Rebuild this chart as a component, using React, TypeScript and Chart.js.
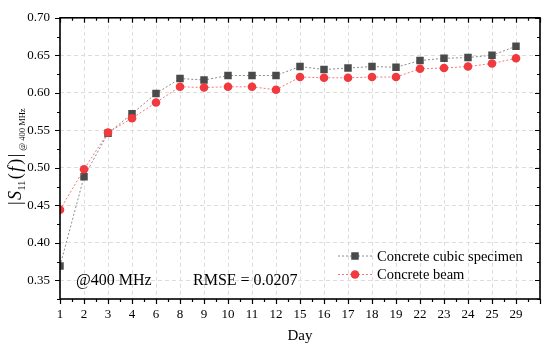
import React, { useEffect, useRef } from 'react';
import { Chart, registerables } from 'chart.js';

Chart.register(...registerables);

const days = ['1', '2', '3', '4', '6', '8', '9', '10', '11', '12', '15', '16', '17', '18', '19', '22', '23', '24', '25', '29'];
const cubicValues = [0.369, 0.488, 0.546, 0.572, 0.599, 0.619, 0.617, 0.623, 0.623, 0.623, 0.635, 0.631, 0.633, 0.635, 0.634, 0.643, 0.646, 0.647, 0.650, 0.662];
const beamValues = [0.444, 0.498, 0.547, 0.566, 0.587, 0.608, 0.607, 0.608, 0.608, 0.604, 0.621, 0.620, 0.620, 0.621, 0.621, 0.632, 0.633, 0.635, 0.639, 0.646];
const yTickValues = [0.35, 0.40, 0.45, 0.50, 0.55, 0.60, 0.65, 0.70];
const yMinorValues = [0.325, 0.375, 0.425, 0.475, 0.525, 0.575, 0.625, 0.675];
const legendLabels = ['Concrete cubic specimen', 'Concrete beam'];
const noteLeft = '@400 MHz';
const noteRight = 'RMSE = 0.0207';
const xTitle = 'Day';

const SERIF = '"Liberation Serif", "Times New Roman", serif';
const cubicColor = '#4a4a4a';
const cubicLine = '#8c8c8c';
const beamColor = '#f03a3e';
const beamLine = '#f07a7c';

const decorPlugin = {
  id: 'decor',
  afterDraw(chart: any) {
    const { ctx, chartArea } = chart;
    const { left, right, top, bottom } = chartArea;
    const xs = chart.scales.x;
    const ys = chart.scales.y;
    ctx.save();
    // ticks
    ctx.strokeStyle = '#000';
    ctx.lineWidth = 1.2;
    ctx.beginPath();
    for (let i = 0; i <= days.length; i++) {
      const px = Math.round(xs.getPixelForValue(i)) + 0.5;
      ctx.moveTo(px, bottom); ctx.lineTo(px, bottom + 5);
      ctx.moveTo(px, top); ctx.lineTo(px, top + 5);
      if (i < days.length) {
        const mx = Math.round(xs.getPixelForValue(i + 0.5)) + 0.5;
        ctx.moveTo(mx, bottom); ctx.lineTo(mx, bottom + 3);
        ctx.moveTo(mx, top); ctx.lineTo(mx, top + 3);
      }
    }
    yTickValues.forEach((v) => {
      const py = Math.round(ys.getPixelForValue(v)) + 0.5;
      ctx.moveTo(left - 5, py); ctx.lineTo(left, py);
      ctx.moveTo(right - 5, py); ctx.lineTo(right, py);
    });
    yMinorValues.forEach((v) => {
      const py = Math.round(ys.getPixelForValue(v)) + 0.5;
      ctx.moveTo(left - 3, py); ctx.lineTo(left, py);
      ctx.moveTo(right - 3, py); ctx.lineTo(right, py);
    });
    ctx.stroke();
    // frame
    ctx.lineWidth = 1.6;
    ctx.strokeRect(left, top, right - left, bottom - top);

    // annotations
    ctx.fillStyle = '#000';
    ctx.font = `16px ${SERIF}`;
    ctx.textBaseline = 'alphabetic';
    ctx.textAlign = 'left';
    ctx.fillText(noteLeft, 76, 285);
    ctx.fillText(noteRight, 193, 285);

    // x title
    ctx.font = `15px ${SERIF}`;
    ctx.textAlign = 'center';
    ctx.fillText(xTitle, (left + right) / 2, 340);

    // legend
    const rows = [
      { label: legendLabels[0], line: cubicLine, fill: cubicColor, shape: 'rect', y: 256 },
      { label: legendLabels[1], line: beamLine, fill: beamColor, shape: 'circle', y: 274.5 },
    ];
    rows.forEach((r) => {
      ctx.save();
      ctx.strokeStyle = r.line;
      ctx.lineWidth = 1;
      ctx.setLineDash([2, 2]);
      ctx.beginPath();
      ctx.moveTo(338, r.y); ctx.lineTo(372, r.y);
      ctx.stroke();
      ctx.restore();
      ctx.fillStyle = r.fill;
      if (r.shape === 'rect') {
        ctx.fillRect(355 - 3.75, r.y - 3.75, 7.5, 7.5);
      } else {
        ctx.beginPath();
        ctx.arc(355, r.y, 4.3, 0, Math.PI * 2);
        ctx.fill();
      }
      ctx.fillStyle = '#000';
      ctx.font = `14.5px ${SERIF}`;
      ctx.textAlign = 'left';
      ctx.textBaseline = 'middle';
      ctx.fillText(r.label, 377, r.y + 1);
    });

    // y title (rotated, with subscripts)
    ctx.save();
    ctx.translate(21, 205);
    ctx.rotate(-Math.PI / 2);
    ctx.textAlign = 'left';
    ctx.textBaseline = 'alphabetic';
    ctx.fillStyle = '#000';
    let x = 0;
    const seg = (text: string, font: string, dy: number, gap: number) => {
      ctx.font = font;
      ctx.fillText(text, x, dy);
      x += ctx.measureText(text).width + gap;
    };
    const main = `18px ${SERIF}`;
    const ital = `italic 18px ${SERIF}`;
    seg('|', main, 0, 1.5);
    seg('S', ital, 0, 0.5);
    seg('11', `10px ${SERIF}`, 4, 1.5);
    seg('(', main, 0, 1.5);
    seg('f', ital, 0, 2);
    seg(')', main, 0, 1.5);
    seg('|', main, 0, 3);
    seg('@ 400 MHz', `8.5px ${SERIF}`, 4, 0);
    ctx.restore();

    ctx.restore();
  },
};

export default function App() {
  const canvasRef = useRef<HTMLCanvasElement | null>(null);

  useEffect(() => {
    if (!canvasRef.current) return;
    const chart = new Chart(canvasRef.current, {
      type: 'line',
      data: {
        datasets: [
          {
            label: legendLabels[1],
            data: beamValues.map((v, i) => ({ x: i, y: v })),
            borderColor: beamLine,
            backgroundColor: beamColor,
            pointBackgroundColor: beamColor,
            pointBorderColor: beamColor,
            pointStyle: 'circle',
            pointRadius: 4.3,
            pointBorderWidth: 0,
            borderWidth: 1,
            borderDash: [2, 2],
            order: 0,
          },
          {
            label: legendLabels[0],
            data: cubicValues.map((v, i) => ({ x: i, y: v })),
            borderColor: cubicLine,
            backgroundColor: cubicColor,
            pointBackgroundColor: cubicColor,
            pointBorderColor: cubicColor,
            pointStyle: 'rect',
            pointRadius: 5.3,
            pointBorderWidth: 0,
            borderWidth: 1,
            borderDash: [2, 2],
            order: 1,
          },
        ],
      },
      options: {
        animation: false,
        responsive: true,
        maintainAspectRatio: false,
        layout: { padding: { left: 0, top: 11, right: 10, bottom: 0 } },
        plugins: {
          legend: { display: false },
          tooltip: { enabled: false },
          title: { display: false },
        },
        scales: {
          x: {
            type: 'linear',
            min: 0,
            max: days.length,
            afterBuildTicks: (scale: any) => {
              scale.ticks = days.map((_, i) => ({ value: i })).concat([{ value: days.length }]);
            },
            afterFit: (scale: any) => { scale.height = 50; },
            ticks: {
              autoSkip: false,
              maxRotation: 0,
              padding: 8,
              color: '#000',
              font: { family: SERIF, size: 13 },
              callback: (v: any) => (days[v] !== undefined ? days[v] : ''),
            },
            grid: {
              drawTicks: false,
              color: '#dcdcdc',
              lineWidth: 1,
            },
            border: { display: false, dash: [4, 3] },
          },
          y: {
            type: 'linear',
            min: 0.325,
            max: 0.70,
            afterBuildTicks: (scale: any) => {
              scale.ticks = yTickValues.map((v) => ({ value: v }));
            },
            afterFit: (scale: any) => { scale.width = 60; },
            ticks: {
              padding: 10,
              color: '#000',
              font: { family: SERIF, size: 13 },
              callback: (v: any) => Number(v).toFixed(2),
            },
            grid: {
              drawTicks: false,
              color: '#dcdcdc',
              lineWidth: 1,
            },
            border: { display: false, dash: [4, 3] },
          },
        },
      },
      plugins: [decorPlugin],
    });
    return () => chart.destroy();
  }, []);

  return (
    <div style={{ position: 'fixed', left: 0, top: 0, width: 550, height: 349, background: '#fff' }}>
      <canvas ref={canvasRef} />
    </div>
  );
}
